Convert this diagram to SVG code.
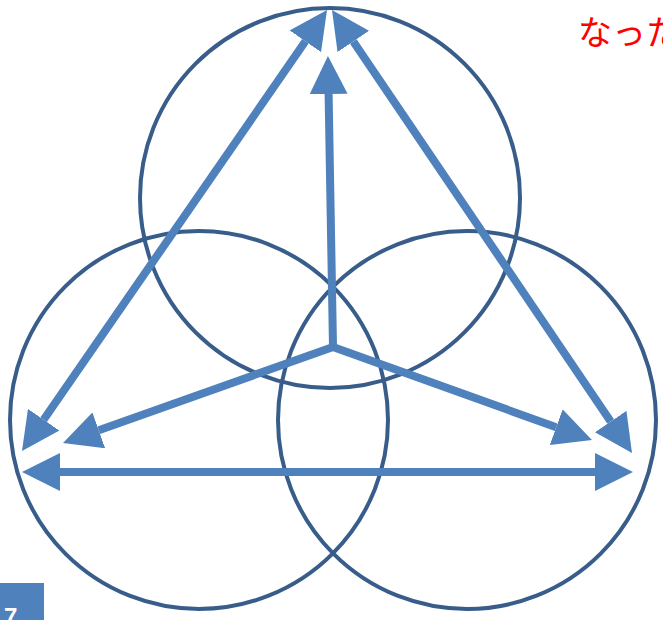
<svg xmlns="http://www.w3.org/2000/svg" width="663" height="620" viewBox="0 0 663 620">
<style>
.c{fill:none;stroke:#385D8A;stroke-width:4}
.a{fill:none;stroke:#4F81BD;stroke-width:8;marker-end:url(#h)}
.d{marker-start:url(#h)}
</style>
<defs>
<marker id="h" markerUnits="userSpaceOnUse" viewBox="0 -19 38 38" markerWidth="38" markerHeight="38" refX="0" refY="0" orient="auto-start-reverse">
<path d="M0,-19 L38,0 L0,19 Z" fill="#4F81BD"/>
</marker>
</defs>
<rect width="663" height="620" fill="#fff"/>
<g id="circle-top"><circle class="c" cx="330" cy="198" r="190"/></g>
<g id="circle-left"><circle class="c" cx="199" cy="420" r="189"/></g>
<g id="circle-right"><circle class="c" cx="467" cy="420" r="189"/></g>
<g id="connectors">
<line class="a d" x1="43.6" y1="419.7" x2="305.4" y2="41.3"/>
<line class="a d" x1="353.3" y1="41.5" x2="610.7" y2="421.5"/>
<line class="a" x1="333" y1="347" x2="328.6" y2="94"/>
<line class="a" x1="333" y1="347" x2="98.8" y2="430.3"/>
<line class="a" x1="333" y1="347" x2="556.2" y2="427.2"/>
<line class="a d" x1="60" y1="472" x2="595" y2="472"/>
</g>
<text x="578" y="45" font-family="'Noto Sans CJK JP', sans-serif" font-size="34" fill="#FF0000">なった</text>
<g id="page-number">
<rect x="0" y="583" width="44" height="37" fill="#4F81BD"/>
<text x="4" y="625" font-family="'Liberation Sans', sans-serif" font-weight="bold" font-size="24" fill="#fff">7</text>
</g>
</svg>
